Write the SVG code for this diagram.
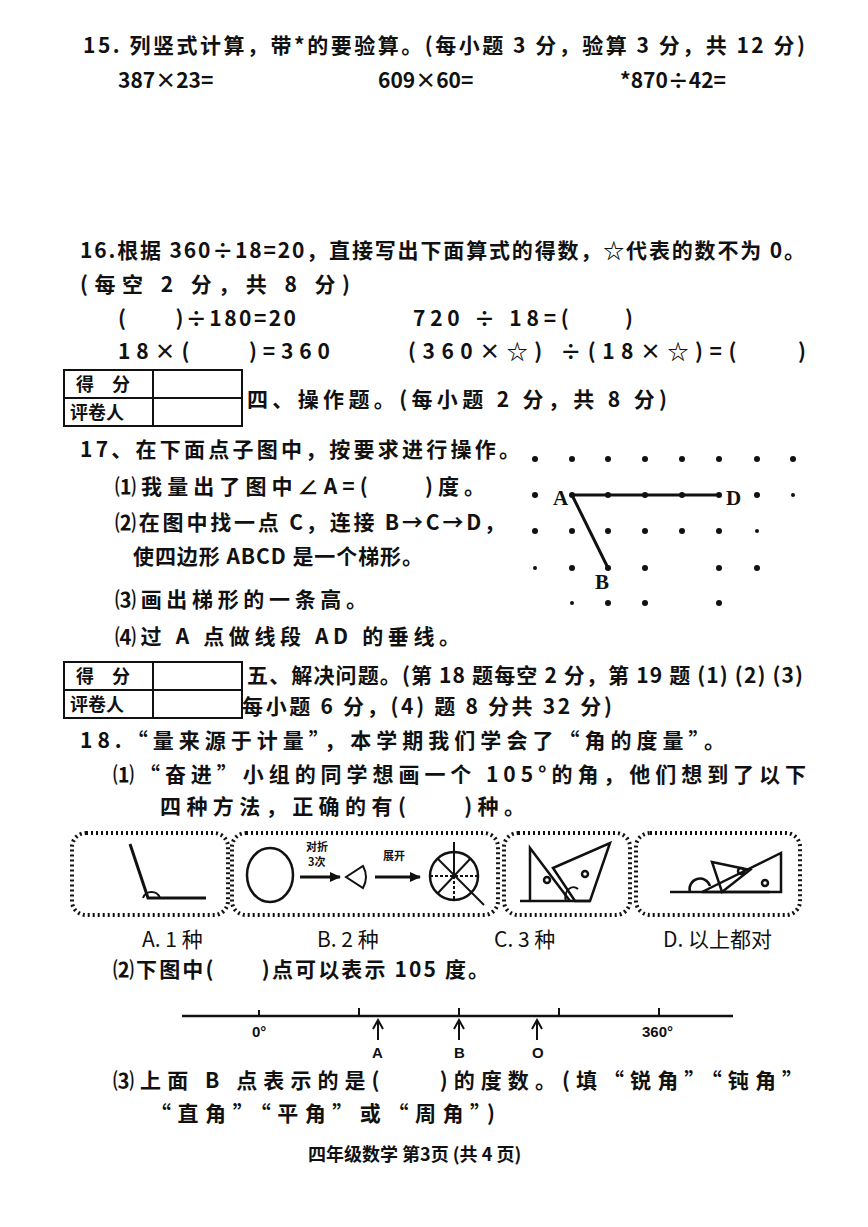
<svg xmlns="http://www.w3.org/2000/svg" width="868" height="1227" viewBox="0 0 868 1227">
<defs>
<style>
text{font-family:"Noto Sans CJK SC","Liberation Sans",sans-serif;font-size:21px;font-weight:bold;fill:#111}
.s{font-size:11px;font-weight:bold}
.l{stroke:#111;stroke-width:3;fill:none}
.t{stroke:#111;stroke-width:2;fill:none}
.box{fill:none;stroke:#111;stroke-width:4;stroke-dasharray:2 3}
.n{font-family:"Liberation Sans",sans-serif;font-size:15px}
</style>
<marker id="ar" markerUnits="userSpaceOnUse" markerWidth="12" markerHeight="12" refX="10" refY="6" orient="auto"><path d="M0,1 L11,6 L0,11 z" fill="#111"/></marker>
<marker id="ua" markerUnits="userSpaceOnUse" markerWidth="12" markerHeight="12" refX="10" refY="6" orient="auto"><path d="M1,1 L10,6 L1,11" fill="none" stroke="#111" stroke-width="2"/></marker>
</defs>
<rect width="868" height="1227" fill="#fff"/>
<text x="83" y="53" textLength="722" lengthAdjust="spacing">15. 列竖式计算，带*的要验算。(每小题 3 分，验算 3 分，共 12 分)</text>
<text x="118" y="88">387×23=</text>
<text x="378" y="88">609×60=</text>
<text x="620" y="88">*870÷42=</text>
<text x="80" y="258" textLength="725" lengthAdjust="spacing">16.根据 360÷18=20，直接写出下面算式的得数，☆代表的数不为 0。</text>
<text x="80" y="292" textLength="270" lengthAdjust="spacing">(每空 2 分，共 8 分)</text>
<text x="118" y="326" textLength="178" lengthAdjust="spacing">(　　)÷180=20</text>
<text x="413" y="326" textLength="220" lengthAdjust="spacing">720 ÷ 18=(　　)</text>
<text x="118" y="359" textLength="212" lengthAdjust="spacing">18×(　　)=360</text>
<text x="408" y="359" textLength="398" lengthAdjust="spacing">(360×☆) ÷(18×☆)=(　　)</text>
<g id="score1" class="t"><rect x="64" y="370" width="178" height="56"/><line x1="64" y1="398" x2="242" y2="398"/><line x1="153" y1="370" x2="153" y2="426"/></g>
<text x="76" y="391" style="font-size:18px">得　分</text><text x="70" y="419" style="font-size:18px">评卷人</text>
<text x="247" y="407" textLength="420" lengthAdjust="spacing">四、操作题。(每小题 2 分，共 8 分)</text>
<text x="80" y="457" textLength="440" lengthAdjust="spacing">17、在下面点子图中，按要求进行操作。</text>
<text x="115" y="494" textLength="370" lengthAdjust="spacing">⑴我量出了图中∠A=(　　)度。</text>
<text x="115" y="530" textLength="390" lengthAdjust="spacing">⑵在图中找一点 C，连接 B→C→D，</text>
<text x="133" y="564" textLength="290" lengthAdjust="spacing">使四边形 ABCD 是一个梯形。</text>
<text x="115" y="607" textLength="252" lengthAdjust="spacing">⑶画出梯形的一条高。</text>
<text x="115" y="644" textLength="345" lengthAdjust="spacing">⑷过 A 点做线段 AD 的垂线。</text>
<g id="dots" fill="#111">
<circle cx="535" cy="459" r="3"/><circle cx="572" cy="459" r="3"/><circle cx="608" cy="459" r="3"/><circle cx="645" cy="459" r="3"/><circle cx="682" cy="459" r="3"/><circle cx="719" cy="459" r="3"/><circle cx="757" cy="459" r="3"/><circle cx="793" cy="459" r="3"/>
<circle cx="535" cy="495" r="3"/><circle cx="572" cy="495" r="3"/><circle cx="608" cy="495" r="3"/><circle cx="645" cy="495" r="3"/><circle cx="682" cy="495" r="3"/><circle cx="719" cy="495" r="3"/><circle cx="757" cy="495" r="3"/><circle cx="793" cy="495" r="2"/>
<circle cx="535" cy="531" r="3"/><circle cx="572" cy="531" r="3"/><circle cx="608" cy="531" r="3"/><circle cx="645" cy="531" r="3"/><circle cx="682" cy="531" r="3"/><circle cx="719" cy="531" r="3"/><circle cx="757" cy="531" r="2"/>
<circle cx="535" cy="568" r="2"/><circle cx="572" cy="568" r="3"/><circle cx="608" cy="568" r="3"/><circle cx="645" cy="568" r="3"/><circle cx="719" cy="568" r="3"/><circle cx="757" cy="568" r="3"/>
<circle cx="572" cy="603" r="2"/><circle cx="608" cy="603" r="3"/><circle cx="645" cy="603" r="3"/><circle cx="719" cy="603" r="3"/>
</g>
<g id="connectors" class="l"><line x1="572" y1="495" x2="719" y2="495"/><line x1="572" y1="495" x2="608" y2="568"/></g>
<text x="553" y="505" style="font-family:'Liberation Serif',serif">A</text>
<text x="726" y="505" style="font-family:'Liberation Serif',serif">D</text>
<text x="595" y="589" style="font-family:'Liberation Serif',serif">B</text>
<g id="score2" class="t"><rect x="64" y="662" width="178" height="56"/><line x1="64" y1="690" x2="242" y2="690"/><line x1="153" y1="662" x2="153" y2="718"/></g>
<text x="76" y="683" style="font-size:18px">得　分</text><text x="70" y="711" style="font-size:18px">评卷人</text>
<text x="247" y="683" textLength="556" lengthAdjust="spacing">五、解决问题。(第 18 题每空 2 分，第 19 题 (1) (2) (3)</text>
<text x="242" y="714" textLength="370" lengthAdjust="spacing">每小题 6 分，(4) 题 8 分共 32 分)</text>
<text x="80" y="748" textLength="645" lengthAdjust="spacing">18.“量来源于计量”，本学期我们学会了“角的度量”。</text>
<text x="113" y="782" textLength="693" lengthAdjust="spacing">⑴“奋进”小组的同学想画一个 105°的角，他们想到了以下</text>
<text x="160" y="814" textLength="365" lengthAdjust="spacing">四种方法，正确的有(　　)种。</text>
<g id="boxes">
<rect class="box" x="72" y="833" width="156" height="82" rx="14"/>
<rect class="box" x="232" y="833" width="266" height="82" rx="14"/>
<rect class="box" x="504" y="833" width="126" height="82" rx="14"/>
<rect class="box" x="636" y="833" width="164" height="82" rx="14"/>
</g>
<g id="fig1" class="l"><polyline points="130,844 148,898 206,898"/><path d="M143,898 a9,9 0 0 1 17,0" class="t"/></g>
<g id="fig2" class="t">
<ellipse cx="270" cy="875" rx="23" ry="27" style="stroke-width:2.5"/>
<line x1="300" y1="877" x2="340" y2="877" style="stroke-width:3" marker-end="url(#ar)"/>
<path d="M346,877 L363,866 Q369,877 363,888 Z"/>
<line x1="375" y1="877" x2="420" y2="877" style="stroke-width:3" marker-end="url(#ar)"/>
<circle cx="454" cy="876" r="24" style="stroke-width:2.5"/>
<line x1="454" y1="842" x2="454" y2="876"/><line x1="454" y1="876" x2="454" y2="900" stroke-dasharray="3 2"/>
<line x1="430" y1="876" x2="478" y2="876" stroke-dasharray="3 2"/>
<line x1="438" y1="859" x2="484" y2="905"/><line x1="470" y1="859" x2="438" y2="893"/>
</g>
<text x="306" y="851" class="s">对折</text><text x="308" y="866" class="s">3次</text>
<text x="383" y="860" class="s">展开</text>
<g id="fig3" class="t" style="stroke-width:2.5">
<line x1="520" y1="901" x2="590" y2="901"/>
<polyline points="530,901 530,848 570,901"/>
<polygon points="553,868 610,843 590,901 575,901"/>
<circle cx="547" cy="880" r="3"/><circle cx="585" cy="874" r="3"/>
<path d="M566,901 a8,10 0 0 1 12,-12" class="t"/>
</g>
<g id="fig4" class="t" style="stroke-width:2.5">
<line x1="670" y1="892" x2="770" y2="892"/>
<polygon points="702,892 781,853 781,892"/>
<polygon points="712,862 750,870 722,892"/>
<circle cx="741" cy="871" r="3"/><circle cx="765" cy="883" r="3"/>
<path d="M690,892 a10,10 0 0 1 20,-6"/>
</g>
<text x="142" y="947" style="font-weight:normal">A. 1 种</text>
<text x="317" y="947" style="font-weight:normal">B. 2 种</text>
<text x="494" y="947" style="font-weight:normal">C. 3 种</text>
<text x="663" y="947" style="font-weight:normal">D. 以上都对</text>
<text x="113" y="977" textLength="376" lengthAdjust="spacing">⑵下图中(　　)点可以表示 105 度。</text>
<g id="numberline" class="t">
<line x1="182" y1="1016" x2="733" y2="1016" style="stroke-width:2.5"/>
<line x1="259" y1="1010" x2="259" y2="1016"/><line x1="359" y1="1008" x2="359" y2="1016"/><line x1="459" y1="1008" x2="459" y2="1016"/><line x1="559" y1="1008" x2="559" y2="1016"/><line x1="659" y1="1008" x2="659" y2="1016"/>
<line x1="378" y1="1040" x2="378" y2="1020" marker-end="url(#ua)"/>
<line x1="459" y1="1040" x2="459" y2="1020" marker-end="url(#ua)"/>
<line x1="537" y1="1040" x2="537" y2="1020" marker-end="url(#ua)"/>
</g>
<text x="252" y="1037" class="n">0°</text>
<text x="642" y="1037" class="n">360°</text>
<text x="372" y="1058" class="n">A</text>
<text x="454" y="1058" class="n">B</text>
<text x="532" y="1058" class="n">O</text>
<text x="113" y="1088" textLength="690" lengthAdjust="spacing">⑶上面 B 点表示的是(　　)的度数。(填“锐角”“钝角”</text>
<text x="150" y="1121" textLength="345" lengthAdjust="spacing">“直角”“平角”或“周角”)</text>
<text x="308" y="1161" style="font-size:18px">四年级数学 第3页 (共 4 页)</text>
</svg>
